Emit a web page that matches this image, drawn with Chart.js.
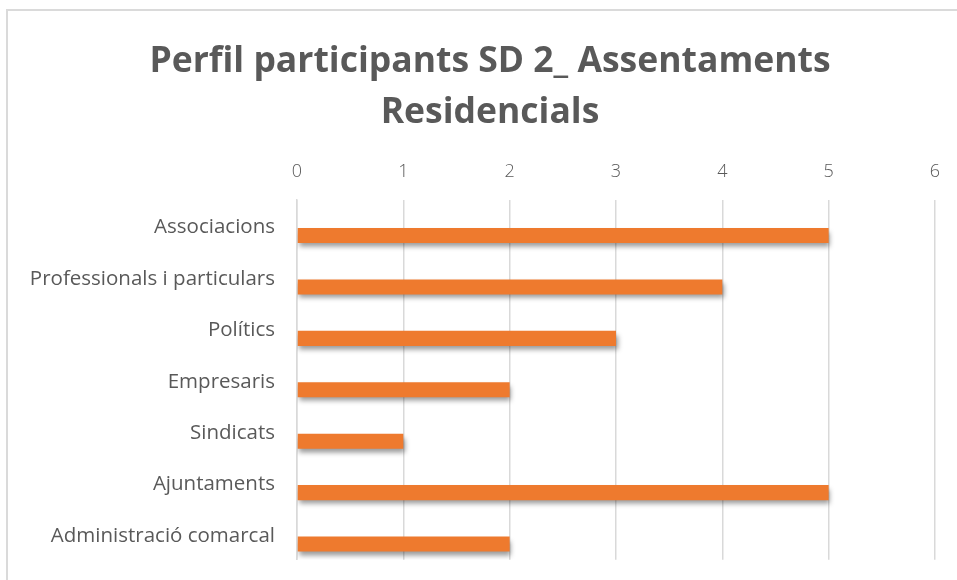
<!DOCTYPE html>
<html>
<head>
<meta charset="utf-8">
<script src="https://cdn.jsdelivr.net/npm/chart.js@4/dist/chart.umd.min.js"></script>
<style>
  html, body { margin: 0; padding: 0; background: #fff; overflow: hidden; }
  body { width: 957px; height: 580px; position: relative; }
  #frame {
    position: absolute; left: 6px; top: 9px; width: 1100px; height: 700px;
    border: 2px solid #dadada; box-sizing: border-box;
  }
  #wrap { position: absolute; left: 0; top: 0; width: 980px; height: 586px; }
  #wrap canvas { display: block; }
</style>
</head>
<body>
<div id="frame"></div>
<div id="wrap"><canvas id="chart" width="980" height="586"></canvas></div>
<script>
/* =========================================================
   DATA
========================================================= */
const categories = [
  "Associacions",
  "Professionals i particulars",
  "Polítics",
  "Empresaris",
  "Sindicats",
  "Ajuntaments",
  "Administració comarcal"
];
const participants = [5, 4, 3, 2, 1, 5, 2];
const axisMin = 0;
const axisMax = 6;
const axisStep = 1;

// empty first series (as in the source sheet) so the real bars sit in the lower slot
const emptySeries = categories.map(() => null);

/* =========================================================
   PLUGINS
========================================================= */
const barShadow = {
  id: "barShadow",
  beforeDatasetsDraw(chart) {
    const ctx = chart.ctx;
    ctx.save();
    ctx.shadowColor = "rgba(0,0,0,0.4)";
    ctx.shadowBlur = 5;
    ctx.shadowOffsetX = 1.5;
    ctx.shadowOffsetY = 4;
  },
  afterDatasetsDraw(chart) {
    chart.ctx.restore();
  }
};

// centre the title on the whole canvas, not on the padded box
const titleFullWidth = {
  id: "titleFullWidth",
  afterLayout(chart) {
    const t = chart.titleBlock;
    if (!t) return;
    t.left = 0;
    t.right = chart.width;
    t.width = chart.width;
  }
};

/* =========================================================
   CHART
========================================================= */
const ctx = document.getElementById("chart");

new Chart(ctx, {
  type: "bar",
  data: {
    labels: categories,
    datasets: [
      { label: "", data: emptySeries, backgroundColor: "transparent" },
      {
        label: "Participants",
        data: participants,
        backgroundColor: "#EE7A2E",
        borderWidth: 0
      }
    ]
  },
  options: {
    indexAxis: "y",
    responsive: false,
    animation: false,
    categoryPercentage: 0.78,
    barPercentage: 0.75,
    layout: { padding: { left: 0, right: 45, top: 0, bottom: 3 } },
    plugins: {
      legend: { display: false },
      tooltip: { enabled: false },
      title: {
        display: true,
        text: ["Perfil participants SD 2_ Assentaments", "Residencials"],
        color: "#595959",
        font: { family: "Open Sans", size: 35.5, weight: "bold", lineHeight: 1.42 },
        padding: { top: 37, bottom: 17 }
      }
    },
    scales: {
      x: {
        position: "top",
        min: axisMin,
        max: axisMax,
        ticks: {
          stepSize: axisStep,
          color: "#595959",
          padding: 17,
          font: { family: "Open Sans", size: 18, weight: "300" }
        },
        grid: { color: "#d9d9d9", lineWidth: 1.5, drawTicks: false },
        border: { display: false },
        afterFit: s => { s.height = 45; }
      },
      y: {
        ticks: {
          color: "#595959",
          padding: 14,
          labelOffset: 2,
          font: { family: "Open Sans", size: 20.5 }
        },
        grid: { display: false },
        border: { color: "#d9d9d9", width: 1.5 },
        afterFit: s => { s.width = 297; }
      }
    }
  },
  plugins: [barShadow, titleFullWidth]
});
</script>
</body>
</html>
